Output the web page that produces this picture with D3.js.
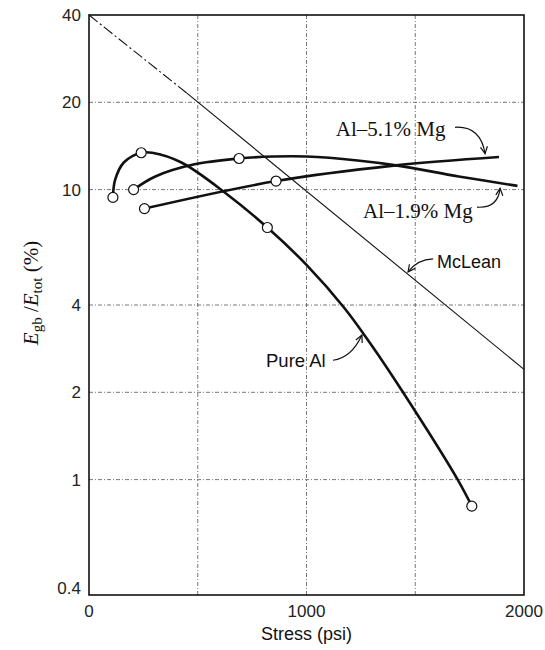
<!DOCTYPE html>
<html>
<head>
<meta charset="utf-8">
<script src="https://cdn.jsdelivr.net/npm/d3@7"></script>
<style>
  body { margin: 0; background: #fff; }
  .grid { stroke: #555; stroke-width: 0.8; stroke-dasharray: 4,2,1,2; }
  .tick-label { font-family: "Liberation Sans", Arial, sans-serif; font-size: 17px; fill: #222; }
  .curve { fill: none; stroke: #111; stroke-width: 2.6; }
  .serif { font-family: "Liberation Serif", "Times New Roman", serif; fill: #111; }
  .sans { font-family: "Liberation Sans", Arial, sans-serif; fill: #111; }
</style>
</head>
<body>
<script>
// chart values (stress in psi, Egb/Etot in %)
var yTicks = [40, 20, 10, 4, 2, 1, 0.4];
var xTicks = [0, 1000, 2000];
var xGrid = [500, 1000, 1500];
var yGrid = [20, 10, 4, 2, 1];

var pureAlStress = [110, 120, 160, 240, 290, 425, 630, 820, 1000, 1175, 1300, 1440, 1695, 1760];
var pureAlRatio  = [9.4, 10.8, 12.4, 13.4, 13.4, 12.4, 9.7, 7.4, 5.5, 3.9, 2.9, 2.02, 1.0, 0.81];
var pureAlPtStress = [110, 240, 820, 1760];
var pureAlPtRatio  = [9.4, 13.4, 7.4, 0.81];

var mg19Stress = [205, 305, 480, 690, 850, 1000, 1235, 1420, 1700, 1970];
var mg19Ratio  = [10.0, 11.1, 12.2, 12.8, 13.0, 13.0, 12.6, 12.1, 11.1, 10.3];
var mg19PtStress = [205, 690];
var mg19PtRatio  = [10.0, 12.8];

var mg51Stress = [255, 860, 1400, 1885];
var mg51Ratio  = [8.6, 10.7, 12.1, 12.95];
var mg51PtStress = [255, 860];
var mg51PtRatio  = [8.6, 10.7];

var mcleanStress = [0, 450, 2000];
var mcleanRatio  = [40, 21.5, 2.4];

// set the dimensions and margins of the graph
var margin = {top: 15, right: 21, bottom: 55, left: 89},
    width = 545 - margin.left - margin.right,
    height = 650 - margin.top - margin.bottom;

var x = d3.scaleLinear().domain([0, 2000]).range([0, width]);
var y = d3.scaleLog().domain([0.4, 40]).range([height, 0]);

function zip(xs, ys) {
  return xs.map(function(v, i) { return {x: v, y: ys[i]}; });
}

var line = d3.line()
    .x(function(d) { return x(d.x); })
    .y(function(d) { return y(d.y); })
    .curve(d3.curveCatmullRom.alpha(0.5));

var straight = d3.line()
    .x(function(d) { return x(d.x); })
    .y(function(d) { return y(d.y); });

var svg = d3.select("body").append("svg")
    .attr("width", 545)
    .attr("height", 650);

// arrow head marker for the labels
svg.append("defs").append("marker")
    .attr("id", "arrow")
    .attr("viewBox", "-8 -5 10 10")
    .attr("refX", 0).attr("refY", 0)
    .attr("markerWidth", 10).attr("markerHeight", 10)
    .attr("markerUnits", "userSpaceOnUse")
    .attr("orient", "auto")
  .append("path")
    .attr("d", "M-7,-3.5 L0,0 L-7,3.5")
    .attr("fill", "none")
    .attr("stroke", "#111")
    .attr("stroke-width", 1.2);

var g = svg.append("g")
    .attr("transform", "translate(" + margin.left + "," + margin.top + ")");

// grid
g.selectAll(".vgrid").data(xGrid).enter().append("line")
    .attr("class", "grid")
    .attr("x1", function(d) { return x(d); }).attr("x2", function(d) { return x(d); })
    .attr("y1", 0).attr("y2", height);
g.selectAll(".hgrid").data(yGrid).enter().append("line")
    .attr("class", "grid")
    .attr("x1", 0).attr("x2", width)
    .attr("y1", function(d) { return y(d); }).attr("y2", function(d) { return y(d); });

// frame
g.append("rect")
    .attr("width", width).attr("height", height)
    .attr("fill", "none").attr("stroke", "#111").attr("stroke-width", 1.6);

// tick labels
g.selectAll(".ylab").data(yTicks).enter().append("text")
    .attr("class", "tick-label")
    .attr("x", -8)
    .attr("y", function(d) { return y(d); })
    .attr("dy", function(d) { return d === 0.4 ? "-0.05em" : "0.35em"; })
    .attr("text-anchor", "end")
    .text(function(d) { return d; });

g.selectAll(".xlab").data(xTicks).enter().append("text")
    .attr("class", "tick-label")
    .attr("x", function(d) { return x(d); })
    .attr("y", height + 22)
    .attr("text-anchor", "middle")
    .text(function(d) { return d; });

// x axis title
g.append("text")
    .attr("class", "sans")
    .attr("x", x(1000))
    .attr("y", height + 45)
    .attr("text-anchor", "middle")
    .style("font-size", "18px")
    .text("Stress (psi)");

// y axis title
var yt = svg.append("text")
    .attr("class", "serif")
    .attr("transform", "translate(38,293) rotate(-90)")
    .attr("text-anchor", "middle")
    .style("font-size", "21px");
yt.append("tspan").style("font-style", "italic").text("E");
yt.append("tspan").attr("dy", 4).style("font-size", "15px").text("gb");
yt.append("tspan").attr("dy", -4).text(" /");
yt.append("tspan").style("font-style", "italic").text("E");
yt.append("tspan").attr("dy", 4).style("font-size", "15px").text("tot");
yt.append("tspan").attr("dy", -4).text(" (%)");

// McLean line: dash-dot then solid
var mclean = zip(mcleanStress, mcleanRatio);
g.append("path")
    .attr("d", straight(mclean.slice(0, 2)))
    .attr("fill", "none").attr("stroke", "#111").attr("stroke-width", 1.1)
    .attr("stroke-dasharray", "11,3,2,3");
g.append("path")
    .attr("d", straight(mclean.slice(1)))
    .attr("fill", "none").attr("stroke", "#111").attr("stroke-width", 1.1);

// data curves
g.append("path").attr("class", "curve").attr("d", line(zip(mg51Stress, mg51Ratio)));
g.append("path").attr("class", "curve").attr("d", line(zip(mg19Stress, mg19Ratio)));
g.append("path").attr("class", "curve").attr("d", line(zip(pureAlStress, pureAlRatio)));

// measured points
var pts = zip(pureAlPtStress, pureAlPtRatio)
    .concat(zip(mg19PtStress, mg19PtRatio))
    .concat(zip(mg51PtStress, mg51PtRatio));
g.selectAll(".pt").data(pts).enter().append("circle")
    .attr("cx", function(d) { return x(d.x); })
    .attr("cy", function(d) { return y(d.y); })
    .attr("r", 5)
    .attr("fill", "#fff").attr("stroke", "#111").attr("stroke-width", 1.2);

// labels with curved arrows (positions in data units)
function arrow(x0, y0, cx, cy, x1, y1) {
  var p = d3.path();
  p.moveTo(x(x0), y(y0));
  p.quadraticCurveTo(x(cx), y(cy), x(x1), y(y1));
  g.append("path")
      .attr("d", p.toString())
      .attr("fill", "none").attr("stroke", "#111").attr("stroke-width", 1.2)
      .attr("marker-end", "url(#arrow)");
}

g.append("text").attr("class", "serif").style("font-size", "21px")
    .attr("x", x(1135)).attr("y", y(15.3)).text("Al\u20135.1% Mg");
arrow(1683, 16.4, 1800, 16.6, 1821, 13.3);

g.append("text").attr("class", "serif").style("font-size", "21px")
    .attr("x", x(1260)).attr("y", y(8.0)).text("Al\u20131.9% Mg");
arrow(1784, 8.7, 1880, 8.6, 1890, 10.1);

g.append("text").attr("class", "sans").style("font-size", "18px")
    .attr("x", x(1600)).attr("y", y(5.37)).text("McLean");
arrow(1582, 5.77, 1510, 5.75, 1467, 5.2);

g.append("text").attr("class", "sans").style("font-size", "18.5px")
    .attr("x", x(814)).attr("y", y(2.44)).text("Pure Al");
arrow(1122, 2.58, 1205, 2.62, 1255, 3.15);
</script>
</body>
</html>
